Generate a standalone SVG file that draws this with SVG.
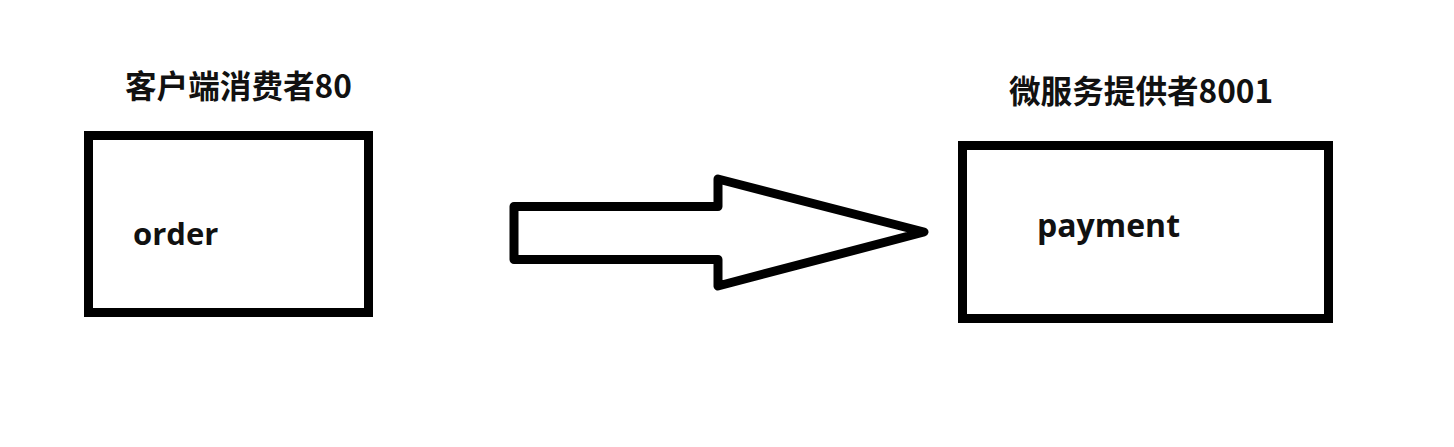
<svg xmlns="http://www.w3.org/2000/svg" width="1454" height="447" viewBox="0 0 1454 447">
<style>
.box{fill:#fff;stroke:#000;stroke-width:9}
.title{font-family:"Noto Sans CJK SC","Noto Sans",sans-serif;font-weight:bold;font-size:31.6px;fill:#111}
.label{font-family:"Open Sans","Noto Sans",sans-serif;font-weight:bold;font-size:31px;fill:#111}
.arrow{fill:#fff;stroke:#000;stroke-width:9;stroke-linejoin:round}
</style>
<rect width="1454" height="447" fill="#fff"/>
<g id="consumer">
<text class="title" x="125" y="98">客户端消费者80</text>
<rect class="box" x="88.5" y="135.5" width="280" height="177"/>
<text class="label" x="133" y="245">order</text>
</g>
<g id="provider">
<text class="title" x="1009" y="103">微服务提供者8001</text>
<rect class="box" x="962.5" y="145.5" width="366" height="173"/>
<text class="label" x="1037" y="237" style="font-size:32px">payment</text>
</g>
<g id="connectors">
<path class="arrow" d="M514,206.5 L718,206.5 L718,179 L924,232 L718,286 L718,259.5 L514,259.5 Z"/>
</g>
</svg>
